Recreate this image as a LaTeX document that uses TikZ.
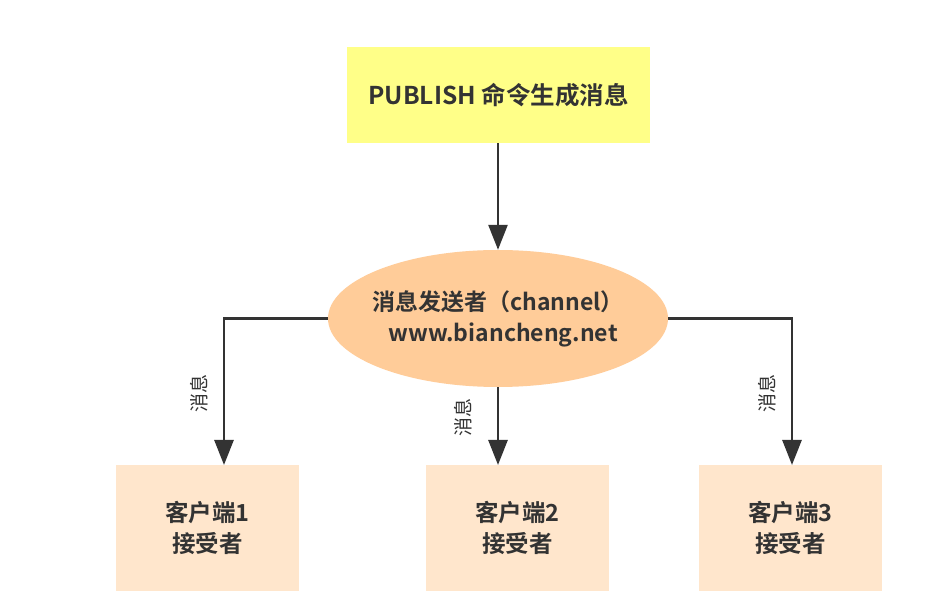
\documentclass[tikz,border=0pt]{standalone}
\usepackage{fontspec}
\setmainfont{Noto Sans CJK SC}[BoldFont={* Bold}]
\usetikzlibrary{arrows.meta,shapes.geometric}
\definecolor{lineC}{HTML}{333333}
\definecolor{yellowC}{HTML}{FFFF88}
\definecolor{orangeC}{HTML}{FFCC99}
\definecolor{peachC}{HTML}{FFE6CC}
\tikzset{
  conn/.style={draw=lineC,line width=2.6pt,-{Triangle[length=25pt,width=19pt]}},
  client/.style={rectangle,fill=peachC,minimum width=183pt,minimum height=126pt,inner sep=0pt,font=\bfseries\fontsize{23.5}{31}\selectfont,text=lineC,align=center},
  lbl/.style={font=\fontsize{19}{19}\selectfont,text=lineC,rotate=90,inner sep=0pt}
}
\begin{document}
\begin{tikzpicture}[x=1pt,y=-1pt]
\useasboundingbox[fill=white] (0,0) rectangle (948,601);
\node[rectangle,fill=yellowC,minimum width=303pt,minimum height=96pt,inner sep=0pt,font=\bfseries\fontsize{24.5}{28}\selectfont,text=lineC] (pub) at (498.5,95) {PUBLISH 命令生成消息};
\node[ellipse,fill=orangeC,minimum width=340pt,minimum height=137pt,inner sep=0pt] (ch) at (498,318.5) {};
\node[font=\bfseries\fontsize{23}{31}\selectfont,text=lineC,align=center,inner sep=0pt] (cht) at (ch.center) {消息发送者（channel）\\\ \ www.biancheng.net};
\node[client] (c1) at (207.5,528) {客户端1\\接受者};
\node[client] (c2) at (517.5,528) {客户端2\\接受者};
\node[client] (c3) at (790.5,528) {客户端3\\接受者};
\coordinate (c1t) at (224,465);
\coordinate (c2t) at (498,465);
\coordinate (c3t) at (792,465);
\draw[conn] (pub.south -| ch.north) -- (ch.north);
\draw[conn] (ch.west) -| (c1t);
\draw[conn] (ch.south) -- (c2t);
\draw[conn] (ch.east) -| (c3t);
\node[lbl] (l1) at (199,394) {消息};
\node[lbl] (l2) at (463,418) {消息};
\node[lbl] (l3) at (767,394) {消息};
\end{tikzpicture}
\end{document}
